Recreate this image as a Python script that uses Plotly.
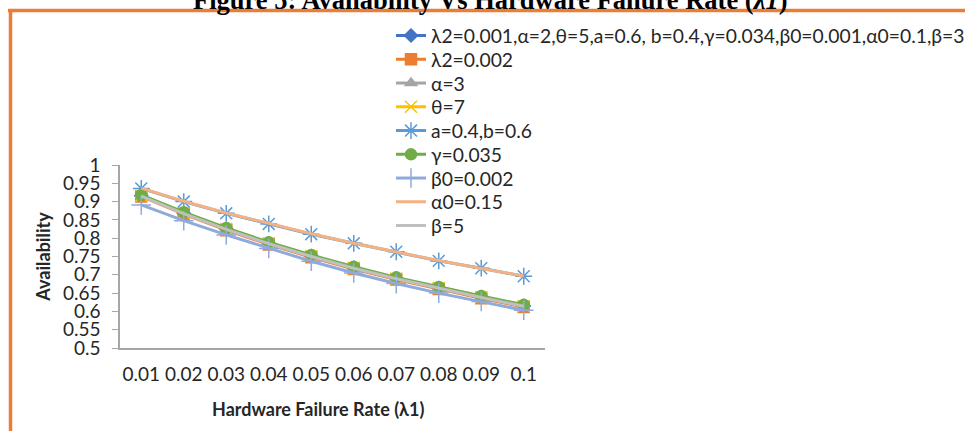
import plotly.graph_objects as go

W, H = 965, 431
L, R, T, B = 120, 420, 165, 83
PW, PH = W - L - R, H - T - B

categories = ["0.01", "0.02", "0.03", "0.04", "0.05", "0.06", "0.07", "0.08", "0.09", "0.1"]

base = [0.916, 0.868, 0.825, 0.786, 0.751, 0.719, 0.690, 0.664, 0.639, 0.615]
lam2_002 = [0.914, 0.866, 0.822, 0.783, 0.748, 0.716, 0.687, 0.661, 0.636, 0.612]
alpha_3 = [0.917, 0.869, 0.826, 0.787, 0.752, 0.720, 0.691, 0.665, 0.640, 0.616]
theta_7 = [0.916, 0.868, 0.825, 0.786, 0.751, 0.719, 0.690, 0.664, 0.639, 0.615]
ab = [0.936, 0.900, 0.868, 0.839, 0.811, 0.786, 0.763, 0.738, 0.718, 0.696]
gamma_035 = [0.918, 0.871, 0.828, 0.789, 0.754, 0.722, 0.693, 0.667, 0.642, 0.618]
beta0_002 = [0.891, 0.848, 0.809, 0.772, 0.737, 0.705, 0.676, 0.650, 0.627, 0.603]
alpha0_15 = [0.937, 0.901, 0.869, 0.840, 0.812, 0.786, 0.762, 0.739, 0.717, 0.697]
beta_5 = [0.915, 0.867, 0.824, 0.785, 0.750, 0.718, 0.689, 0.663, 0.638, 0.614]

names = [
    "λ2=0.001,α=2,θ=5,a=0.6, b=0.4,γ=0.034,β0=0.001,α0=0.1,β=3",
    "λ2=0.002", "α=3", "θ=7", "a=0.4,b=0.6", "γ=0.035", "β0=0.002", "α0=0.15", "β=5",
]
y_ticks = [0.5, 0.55, 0.6, 0.65, 0.7, 0.75, 0.8, 0.85, 0.9, 0.95, 1.0]
y_tick_text = ["0.5", "0.55", "0.6", "0.65", "0.7", "0.75", "0.8", "0.85", "0.9", "0.95", "1"]
title_text = "Figure 5: Availability Vs Hardware Failure Rate (<i>λ1</i>)"
x_title = "Hardware Failure Rate (λ1)"
y_title = "Availability"

series = [base, lam2_002, alpha_3, theta_7, ab, gamma_035, beta0_002, alpha0_15, beta_5]
styles = [
    dict(color="#4472C4", symbol="diamond", size=10, mode="lines+markers"),
    dict(color="#ED7D31", symbol="square", size=11, mode="lines+markers"),
    dict(color="#A5A5A5", symbol="triangle-up", size=10, mode="lines+markers"),
    dict(color="#FFC000", symbol="x-thin-open", size=12, mode="lines+markers"),
    dict(color="#5B9BD5", symbol="asterisk-open", size=14, mode="lines+markers"),
    dict(color="#70AD47", symbol="circle", size=11, mode="lines+markers"),
    dict(color="#8FAADC", symbol="cross-thin-open", size=14, mode="lines+markers"),
    dict(color="#F4B183", symbol="circle", size=1, mode="lines"),
    dict(color="#C0C0C0", symbol="circle", size=1, mode="lines"),
]

def px_x(p):
    return (p - L) / PW

def px_y(p):
    return (H - B - p) / PH

font_fam = "Lato, Open Sans, sans-serif"
txt = "#262626"
axis_col = "#A6A6A6"

fig = go.Figure()
legend_layouts = {}
for i, (name, vals, st) in enumerate(zip(names, series, styles)):
    lid = "legend" if i == 0 else f"legend{i + 1}"
    fig.add_trace(go.Scatter(
        x=categories, y=vals, name=name, mode=st["mode"], legend=lid,
        line=dict(color=st["color"], width=3),
        marker=dict(symbol=st["symbol"], size=st["size"], color=st["color"],
                    line=dict(color=st["color"], width=1.5)),
    ))
    legend_layouts[lid] = dict(
        x=px_x(391), y=px_y(36 + i * 23.75), xanchor="left", yanchor="middle",
        bgcolor="rgba(0,0,0,0)", font=dict(size=19.3, color=txt, family=font_fam),
        itemwidth=30, borderwidth=0,
    )

fig.update_layout(
    width=W, height=H,
    margin=dict(l=L, r=R, t=T, b=B, autoexpand=False),
    paper_bgcolor="white", plot_bgcolor="white",
    font=dict(family=font_fam, size=19, color=txt),
    showlegend=True,
    xaxis=dict(type="category", range=[-0.5, 9.5], showgrid=False, zeroline=False,
               showline=True, linecolor=axis_col, linewidth=1.5,
               ticks="", tickfont=dict(size=19), ticklabelstandoff=8),
    yaxis=dict(range=[0.5, 1.0], tickvals=y_ticks, ticktext=y_tick_text,
               showgrid=False, zeroline=False, showline=True, linecolor=axis_col,
               linewidth=1.5, ticks="outside", ticklen=6, tickcolor=axis_col,
               tickfont=dict(size=19), ticklabelstandoff=8,
               title=dict(text="<b>" + y_title + "</b>", font=dict(size=18), standoff=8)),
    shapes=[
        dict(type="line", xref="paper", yref="paper", x0=px_x(8), x1=px_x(970),
             y0=px_y(10.5), y1=px_y(10.5), line=dict(color="#ED7D31", width=3.5)),
        dict(type="line", xref="paper", yref="paper", x0=px_x(10.5), x1=px_x(10.5),
             y0=px_y(9), y1=px_y(440), line=dict(color="#ED7D31", width=3.5)),
    ],
    annotations=[
        dict(text="<b>" + title_text + "</b>", xref="paper", yref="paper",
             x=px_x(490), y=px_y(17), xanchor="center", yanchor="bottom",
             showarrow=False, font=dict(family="Liberation Serif, Times New Roman, serif",
                                        size=26.5, color="#000000")),
        dict(text="<b>" + x_title + "</b>", xref="paper", yref="paper",
             x=px_x(318), y=px_y(409), xanchor="center", yanchor="middle",
             showarrow=False, font=dict(size=18, color=txt)),
    ],
)
fig.update_layout(**legend_layouts)

fig.write_html("out.html",
               config={"displayModeBar": False},
               post_script="document.body.style.margin='0px';document.body.style.overflow='hidden';")
